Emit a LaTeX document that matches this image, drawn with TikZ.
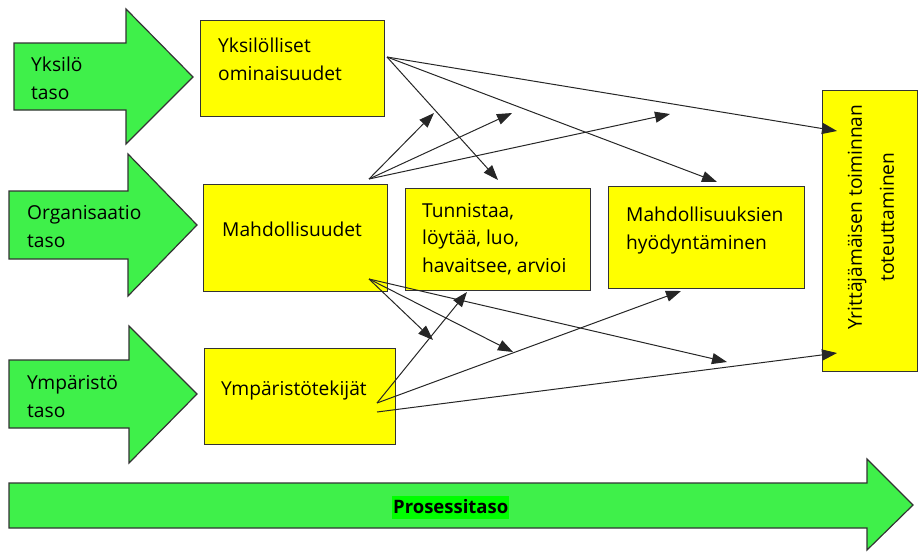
\documentclass[tikz,border=0pt]{standalone}
\usepackage{fontspec}
\setmainfont{Open Sans}
\usetikzlibrary{arrows.meta}
\definecolor{levelgreen}{HTML}{3FF04A}
\definecolor{boxyellow}{HTML}{FFFF00}
\definecolor{edgegray}{HTML}{333333}
\definecolor{markgreen}{HTML}{00FF00}

\begin{document}
\begin{tikzpicture}[x=1pt,y=-1pt,
  levelarrow/.style={fill=levelgreen, draw=edgegray, line width=1.2pt, line join=miter},
  box/.style={rectangle, fill=boxyellow, draw=edgegray, line width=1.2pt, inner sep=0pt, anchor=north west},
  lbl/.style={inner sep=0pt, anchor=base west, align=left, font=\fontsize{19.2}{27.5}\selectfont},
  link/.style={draw=black!85, line width=1pt, -{Triangle[length=15pt,width=11pt]}},
]
\useasboundingbox (0,0) rectangle (918,552);

% level arrows on the left
\draw[levelarrow] (14,43) -- (126,43) -- (126,9) -- (193,77) -- (126,144) -- (126,110) -- (14,110) -- cycle;
\draw[levelarrow] (9,191) -- (128,191) -- (128,154) -- (197,225) -- (128,296) -- (128,259) -- (9,259) -- cycle;
\draw[levelarrow] (9,360) -- (129,360) -- (129,326) -- (197,394) -- (129,463) -- (129,428) -- (9,428) -- cycle;
% process arrow along the bottom
\draw[levelarrow] (9,483) -- (867,483) -- (867,459) -- (913,505) -- (867,550) -- (867,528) -- (9,528) -- cycle;

\node[lbl] (lvlA) at (31,99) {Yksilö\\taso};
\node[lbl] (lvlB) at (27,247) {Organisaatio\\taso};
\node[lbl] (lvlC) at (27,417) {Ympäristö\\taso};
\node[lbl, font=\fontsize{18.5}{22}\selectfont\bfseries, fill=markgreen, inner xsep=1pt, inner ysep=0pt,
      text height=17pt, text depth=6pt] (proc) at (392,513) {Prosessitaso};

% yellow boxes
\node[box, minimum width=184pt, minimum height=96pt] (yks) at (200,20) {};
\node[box, minimum width=184pt, minimum height=107pt] (mah) at (203,184) {};
\node[box, minimum width=191pt, minimum height=96pt] (ymp) at (204,348) {};
\node[box, minimum width=185pt, minimum height=102pt] (tun) at (405,188) {};
\node[box, minimum width=196pt, minimum height=102pt] (hyo) at (608,186) {};
\node[box, minimum width=95pt, minimum height=281pt] (yri) at (822,90) {};

\node[lbl] (yksT) at (218,80) {Yksilölliset\\ominaisuudet};
\node[lbl] (mahT) at (222,236) {Mahdollisuudet};
\node[lbl] (ympT) at (221,395) {Ympäristötekijät};
\node[lbl] (tunT) at (422,272) {Tunnistaa,\\löytää, luo,\\havaitsee, arvioi};
\node[lbl] (hyoT) at (626,249) {Mahdollisuuksien\\hyödyntäminen};
\node[inner sep=0pt, align=center, rotate=90, font=\fontsize{19.2}{32}\selectfont] (yriT) at (871,217)
  {Yrittäjämäisen toiminnan\\toteuttaminen};

% connector end points
\coordinate (yksOut) at (387,57);
\coordinate (mahTop) at (369,179);
\coordinate (mahBot) at (369,279);
\coordinate (ympOut) at (377,403);
\coordinate (ympLow) at (377,412);
\coordinate (tunIn) at (498,180);
\coordinate (hyoIn) at (717,182);
\coordinate (yriInA) at (837,131);
\coordinate (tunInB) at (467,292);
\coordinate (hyoInB) at (681,291);
\coordinate (yriInB) at (837,353);
\coordinate (upA) at (434,113);
\coordinate (upB) at (512,113);
\coordinate (upC) at (670,114);
\coordinate (dnA) at (433,340);
\coordinate (dnB) at (513,352);
\coordinate (dnC) at (727,362);

% individual traits
\draw[link] (yksOut) -- (tunIn);
\draw[link] (yksOut) -- (hyoIn);
\draw[link] (yksOut) -- (yriInA);
% opportunities
\draw[link] (mahTop) -- (upA);
\draw[link] (mahTop) -- (upB);
\draw[link] (mahTop) -- (upC);
\draw[link] (mahBot) -- (dnA);
\draw[link] (mahBot) -- (dnB);
\draw[link] (mahBot) -- (dnC);
% environmental factors
\draw[link] (ympOut) -- (tunInB);
\draw[link] (ympOut) -- (hyoInB);
\draw[link] (ympLow) -- (yriInB);
\end{tikzpicture}
\end{document}
